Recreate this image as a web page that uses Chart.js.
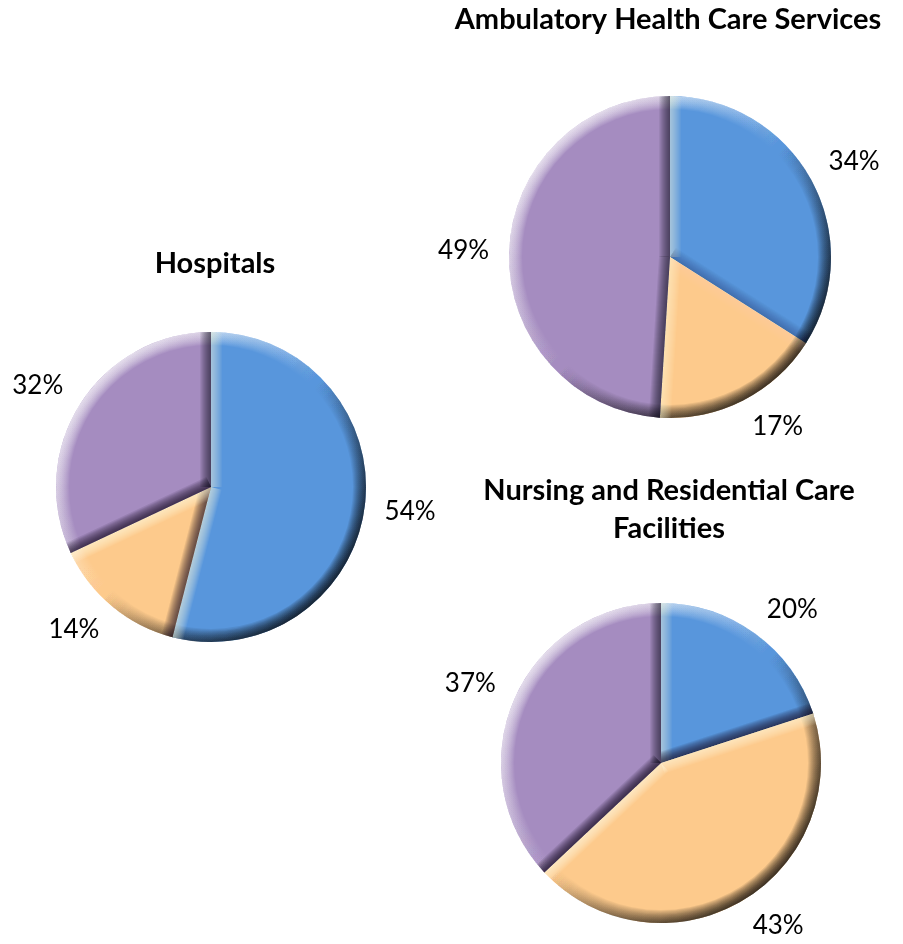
<!DOCTYPE html>
<html>
<head>
<meta charset="utf-8">
<script src="https://cdn.jsdelivr.net/npm/chart.js@4.4.1/dist/chart.umd.min.js"></script>
<style>
  html, body { margin: 0; padding: 0; background: #fff; overflow: hidden; }
  body { position: relative; width: 903px; height: 944px; }
  canvas { position: absolute; top: 0; }
</style>
</head>
<body>
<canvas id="hospitals"></canvas>
<canvas id="ambulatory"></canvas>
<canvas id="nursing"></canvas>
<script>
const groups = ['Group 1', 'Group 2', 'Group 3']
const hospitalsShare = [54, 14, 32]
const ambulatoryShare = [34, 17, 49]
const nursingShare = [20, 43, 37]
const sliceColors = ['#5896dc', '#fdca8c', '#a58cc0']

const PAGE_H = 944

// soft bevel, lit from the upper left
const bevel = {
  id: 'bevel',
  afterDatasetsDraw(chart) {
    const ctx = chart.ctx
    chart.getDatasetMeta(0).data.forEach(arc => {
      const { x, y, startAngle, endAngle, outerRadius: r } = arc
      ctx.save()
      ctx.beginPath()
      ctx.moveTo(x, y)
      ctx.arc(x, y, r, startAngle, endAngle)
      ctx.closePath()
      ctx.clip()

      const k = r * Math.SQRT1_2
      const rim = ctx.createLinearGradient(x - k, y - k, x + k, y + k)
      rim.addColorStop(0, 'rgba(255,255,255,0.09)')
      rim.addColorStop(0.5, 'rgba(255,255,255,0)')
      rim.addColorStop(0.5, 'rgba(0,0,0,0)')
      rim.addColorStop(1, 'rgba(0,0,0,0.1)')
      ctx.strokeStyle = rim
      for (let w = 26; w > 0; w -= 2) {
        ctx.lineWidth = w
        ctx.beginPath()
        ctx.arc(x, y, r, 0, Math.PI * 2)
        ctx.stroke()
      }

      const edges = [
        [startAngle, Math.sin(startAngle), -Math.cos(startAngle)],
        [endAngle, -Math.sin(endAngle), Math.cos(endAngle)]
      ]
      edges.forEach(([a, nx, ny]) => {
        const lit = (-nx - ny) / Math.SQRT2
        ctx.strokeStyle = lit > 0
          ? 'rgba(255,255,225,' + (0.08 * lit) + ')'
          : 'rgba(20,10,30,' + (-0.1 * lit) + ')'
        for (let w = 22; w > 0; w -= 2) {
          ctx.lineWidth = w
          ctx.beginPath()
          ctx.moveTo(x, y)
          ctx.lineTo(x + r * 1.2 * Math.cos(a), y + r * 1.2 * Math.sin(a))
          ctx.stroke()
        }
      })
      ctx.restore()
    })
  }
}

const clamp = v => Math.max(-1, Math.min(1, v))

const outsideLabels = {
  id: 'outsideLabels',
  afterDatasetsDraw(chart) {
    const ctx = chart.ctx
    const values = chart.data.datasets[0].data
    ctx.save()
    ctx.font = '26px Lato'
    ctx.fillStyle = '#000'
    ctx.textAlign = 'center'
    ctx.textBaseline = 'middle'
    chart.getDatasetMeta(0).data.forEach((arc, i) => {
      const mid = (arc.startAngle + arc.endAngle) / 2
      const ux = Math.cos(mid), uy = Math.sin(mid)
      const text = values[i] + '%'
      const w = ctx.measureText(text).width
      const d = arc.outerRadius + 20
      ctx.fillText(text,
        arc.x + ux * d + clamp(ux * 2.5) * w / 2,
        arc.y + uy * d + clamp(uy * 2.5) * 8)
    })
    ctx.restore()
  }
}

const heading = {
  id: 'heading',
  afterDraw(chart, args, opts) {
    const ctx = chart.ctx
    ctx.save()
    ctx.font = 'bold 29px Lato'
    ctx.fillStyle = '#000'
    ctx.textAlign = 'center'
    ctx.textBaseline = 'middle'
    opts.lines.forEach((line, i) => ctx.fillText(line, opts.x, opts.y[i]))
    ctx.restore()
  }
}

function drawPie(id, lines, values, box) {
  const el = document.getElementById(id)
  el.width = box.width
  el.height = PAGE_H
  el.style.left = box.left + 'px'

  const dx = 2 * (box.cx - box.left) - box.width
  const dy = 2 * box.cy - PAGE_H

  new Chart(el, {
    type: 'pie',
    data: {
      labels: groups,
      datasets: [{
        data: values,
        backgroundColor: sliceColors,
        borderWidth: 0,
        radius: box.r
      }]
    },
    options: {
      responsive: false,
      animation: false,
      layout: {
        padding: {
          left: Math.max(dx, 0),
          right: Math.max(-dx, 0),
          top: Math.max(dy, 0),
          bottom: Math.max(-dy, 0)
        }
      },
      plugins: {
        legend: { display: false },
        tooltip: { enabled: false },
        heading: { lines: lines, x: box.titleX - box.left, y: box.titleY }
      }
    },
    plugins: [bevel, outsideLabels, heading]
  })
}

drawPie('hospitals', ['Hospitals'], hospitalsShare,
  { left: 0, width: 440, cx: 211, cy: 487, r: 155, titleX: 215, titleY: [264] })
drawPie('ambulatory', ['Ambulatory Health Care Services'], ambulatoryShare,
  { left: 436, width: 467, cx: 670, cy: 257, r: 161, titleX: 668, titleY: [20] })
drawPie('nursing', ['Nursing and Residential Care', 'Facilities'], nursingShare,
  { left: 437, width: 466, cx: 661, cy: 763, r: 160, titleX: 669, titleY: [491, 529] })
</script>
</body>
</html>
